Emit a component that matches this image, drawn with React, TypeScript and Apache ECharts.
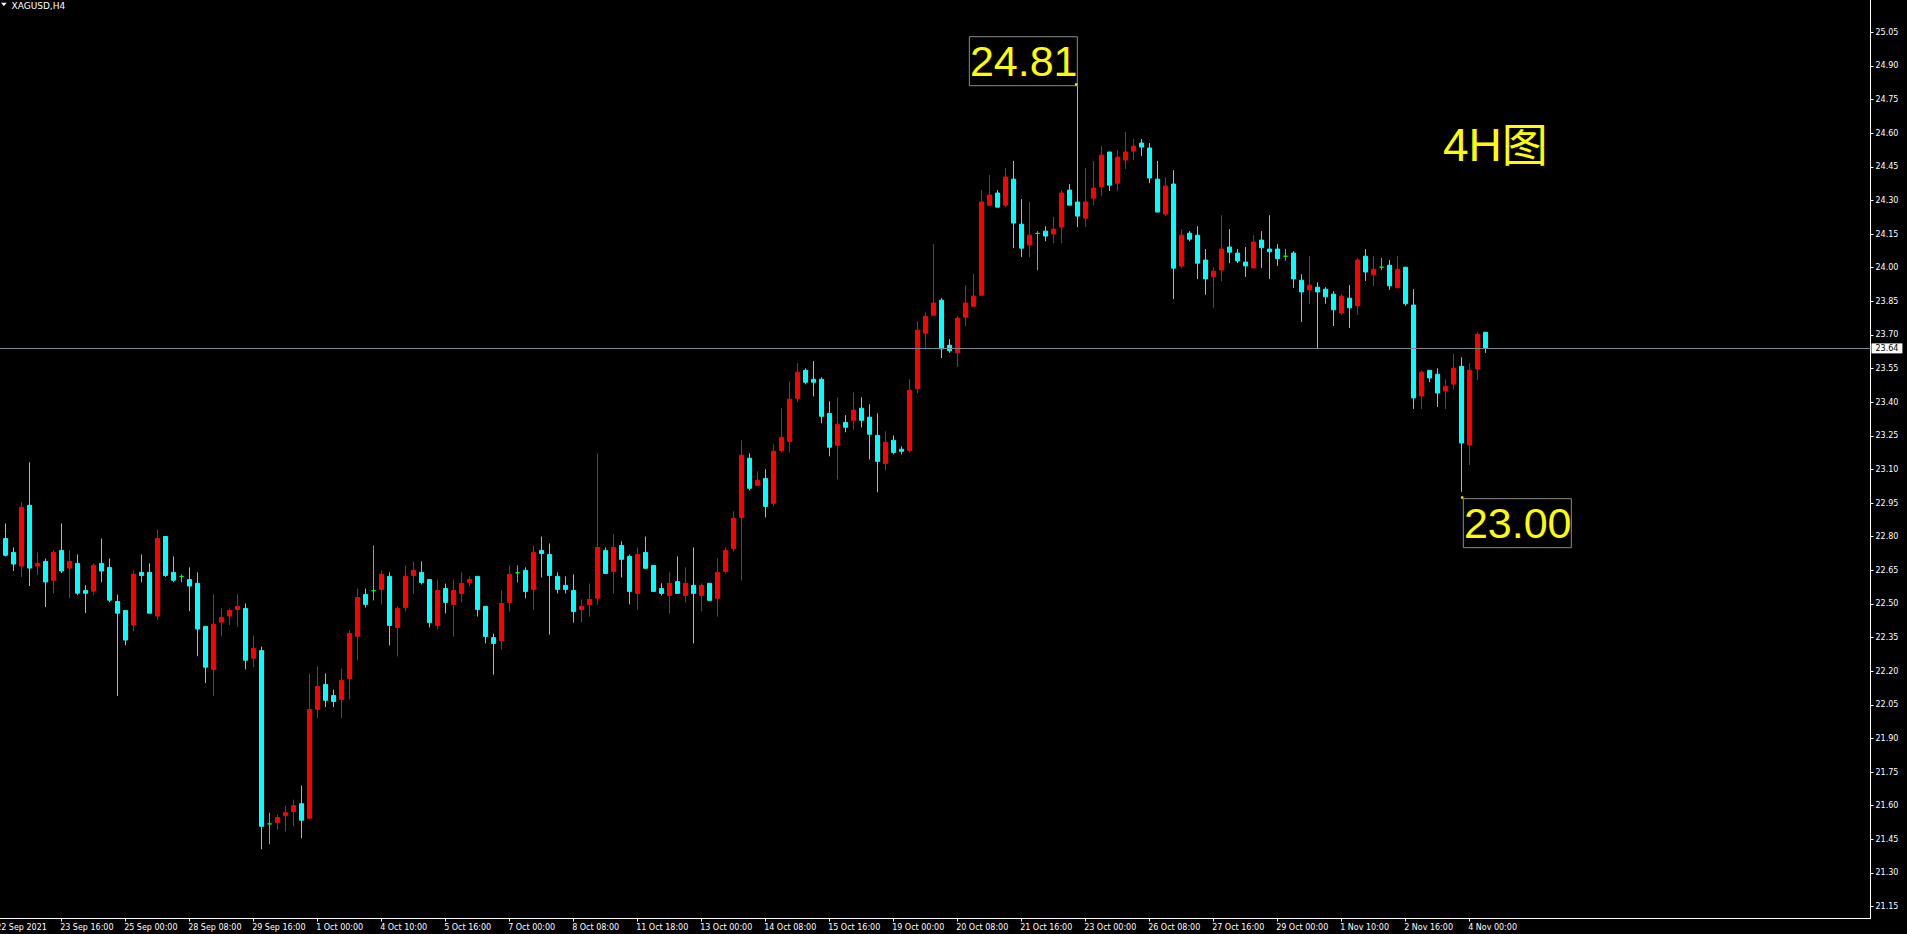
import React, { useEffect, useRef } from 'react';
import * as echarts from 'echarts';

// ---- data (XAGUSD, H4) ----
const opens = [
  22.792, 22.730, 22.669, 22.940, 22.669, 22.690, 22.606, 22.739, 22.660, 22.681,
  22.560, 22.557, 22.681, 22.663, 22.511, 22.471, 22.406, 22.641, 22.641, 22.446,
  22.801, 22.641, 22.623, 22.609, 22.592, 22.400, 22.208, 22.419, 22.446, 22.475,
  22.480, 22.258, 22.292, 21.519, 21.526, 21.556, 21.574, 21.609, 21.544, 22.030,
  22.141, 22.092, 22.074, 22.167, 22.356, 22.542, 22.559, 22.565, 22.623, 22.395,
  22.484, 22.627, 22.641, 22.609, 22.404, 22.569, 22.498, 22.547, 22.596, 22.623,
  22.489, 22.350, 22.337, 22.507, 22.639, 22.650, 22.565, 22.739, 22.721, 22.623,
  22.583, 22.560, 22.475, 22.498, 22.525, 22.739, 22.645, 22.761, 22.712, 22.547,
  22.730, 22.672, 22.569, 22.538, 22.600, 22.538, 22.583, 22.538, 22.592, 22.525,
  22.645, 22.748, 22.886, 23.150, 23.029, 23.060, 22.949, 23.185, 23.225, 23.417,
  23.542, 23.502, 23.502, 23.350, 23.208, 23.310, 23.319, 23.373, 23.333, 23.252,
  23.127, 23.230, 23.190, 23.185, 23.460, 23.708, 23.788, 23.855, 23.654, 23.620,
  23.779, 23.828, 23.877, 24.279, 24.333, 24.279, 24.395, 24.194, 24.101, 24.153,
  24.163, 24.150, 24.181, 24.346, 24.293, 24.221, 24.310, 24.360, 24.516, 24.377,
  24.480, 24.520, 24.556, 24.534, 24.395, 24.239, 24.373, 24.007, 24.154, 24.145,
  24.034, 23.959, 23.990, 24.092, 24.065, 24.025, 23.999, 24.123, 24.083, 24.083,
  24.051, 24.065, 23.944, 23.901, 23.913, 23.904, 23.882, 23.798, 23.864, 23.830,
  24.051, 23.968, 24.002, 24.011, 23.910, 24.002, 23.833, 23.428, 23.542, 23.525,
  23.450, 23.481, 23.560, 23.209, 23.548, 23.712,
];
const highs = [
  22.859, 22.752, 22.953, 23.132, 22.730, 22.703, 22.739, 22.859, 22.739, 22.721,
  22.583, 22.681, 22.792, 22.703, 22.542, 22.471, 22.650, 22.721, 22.681, 22.833,
  22.801, 22.712, 22.632, 22.663, 22.641, 22.400, 22.542, 22.480, 22.480, 22.542,
  22.502, 22.359, 22.310, 21.569, 21.560, 21.600, 21.627, 21.690, 22.190, 22.221,
  22.190, 22.118, 22.212, 22.382, 22.569, 22.569, 22.761, 22.650, 22.641, 22.489,
  22.672, 22.690, 22.690, 22.609, 22.609, 22.591, 22.609, 22.641, 22.623, 22.623,
  22.489, 22.368, 22.560, 22.672, 22.672, 22.663, 22.761, 22.801, 22.770, 22.641,
  22.623, 22.632, 22.520, 22.591, 23.172, 22.752, 22.810, 22.779, 22.721, 22.752,
  22.801, 22.672, 22.592, 22.641, 22.712, 22.663, 22.752, 22.592, 22.592, 22.703,
  22.752, 22.913, 23.230, 23.172, 23.092, 23.101, 23.212, 23.373, 23.493, 23.574,
  23.551, 23.583, 23.511, 23.404, 23.422, 23.342, 23.444, 23.422, 23.391, 23.350,
  23.270, 23.252, 23.203, 23.502, 23.761, 23.801, 24.105, 23.864, 23.681, 23.784,
  23.922, 23.971, 24.346, 24.413, 24.346, 24.444, 24.476, 24.306, 24.293, 24.163,
  24.185, 24.226, 24.346, 24.373, 24.810, 24.444, 24.476, 24.542, 24.516, 24.525,
  24.605, 24.574, 24.574, 24.556, 24.476, 24.404, 24.435, 24.172, 24.163, 24.185,
  24.083, 24.002, 24.234, 24.172, 24.083, 24.092, 24.145, 24.163, 24.234, 24.105,
  24.083, 24.074, 23.971, 24.051, 23.935, 23.913, 23.895, 23.882, 23.922, 24.043,
  24.083, 24.051, 24.043, 24.034, 24.051, 24.002, 23.904, 23.542, 23.542, 23.551,
  23.502, 23.614, 23.600, 23.574, 23.712, 23.712,
];
const lows = [
  22.712, 22.647, 22.620, 22.580, 22.629, 22.486, 22.548, 22.638, 22.526, 22.539,
  22.459, 22.539, 22.597, 22.508, 22.089, 22.316, 22.379, 22.597, 22.459, 22.428,
  22.620, 22.597, 22.597, 22.468, 22.267, 22.147, 22.089, 22.356, 22.406, 22.397,
  22.208, 22.218, 21.406, 21.428, 21.495, 21.486, 21.508, 21.455, 21.540, 21.990,
  22.040, 22.040, 21.990, 22.074, 22.249, 22.484, 22.516, 22.498, 22.315, 22.266,
  22.466, 22.547, 22.587, 22.395, 22.386, 22.458, 22.355, 22.507, 22.578, 22.444,
  22.324, 22.185, 22.297, 22.466, 22.596, 22.525, 22.475, 22.618, 22.364, 22.547,
  22.547, 22.417, 22.417, 22.444, 22.498, 22.636, 22.547, 22.618, 22.498, 22.475,
  22.659, 22.556, 22.538, 22.458, 22.547, 22.507, 22.324, 22.467, 22.516, 22.444,
  22.636, 22.734, 22.605, 23.007, 23.029, 22.886, 22.935, 23.176, 23.176, 23.400,
  23.480, 23.426, 23.306, 23.159, 23.056, 23.266, 23.279, 23.288, 23.145, 22.998,
  23.096, 23.167, 23.167, 23.176, 23.440, 23.636, 23.788, 23.597, 23.620, 23.557,
  23.739, 23.828, 23.877, 24.279, 24.270, 24.270, 24.087, 24.047, 24.047, 23.989,
  24.118, 24.109, 24.109, 24.279, 24.181, 24.181, 24.279, 24.319, 24.342, 24.342,
  24.440, 24.480, 24.498, 24.377, 24.248, 24.230, 23.860, 23.998, 24.118, 23.949,
  23.879, 23.821, 23.940, 24.020, 24.020, 23.959, 23.999, 23.999, 23.950, 24.008,
  24.031, 23.910, 23.758, 23.839, 23.638, 23.839, 23.740, 23.789, 23.731, 23.789,
  23.941, 23.919, 23.989, 23.901, 23.910, 23.830, 23.370, 23.370, 23.490, 23.379,
  23.370, 23.459, 23.000, 23.120, 23.499, 23.620,
];
const closes = [
  22.717, 22.678, 22.931, 22.660, 22.681, 22.598, 22.730, 22.647, 22.690, 22.548,
  22.548, 22.672, 22.647, 22.517, 22.459, 22.339, 22.632, 22.627, 22.459, 22.792,
  22.627, 22.606, 22.623, 22.580, 22.388, 22.218, 22.409, 22.440, 22.471, 22.489,
  22.249, 22.301, 21.508, 21.519, 21.547, 21.569, 21.600, 21.535, 22.029, 22.132,
  22.070, 22.065, 22.159, 22.368, 22.529, 22.498, 22.559, 22.632, 22.404, 22.480,
  22.623, 22.650, 22.596, 22.417, 22.560, 22.507, 22.560, 22.591, 22.609, 22.475,
  22.355, 22.324, 22.502, 22.632, 22.639, 22.556, 22.730, 22.725, 22.627, 22.565,
  22.565, 22.466, 22.489, 22.520, 22.752, 22.636, 22.752, 22.699, 22.556, 22.721,
  22.659, 22.556, 22.547, 22.592, 22.547, 22.592, 22.547, 22.583, 22.516, 22.641,
  22.739, 22.882, 23.163, 23.016, 23.051, 22.935, 23.181, 23.243, 23.413, 23.534,
  23.489, 23.489, 23.337, 23.199, 23.301, 23.288, 23.364, 23.319, 23.257, 23.136,
  23.221, 23.176, 23.181, 23.453, 23.721, 23.783, 23.842, 23.638, 23.629, 23.775,
  23.842, 23.873, 24.293, 24.324, 24.270, 24.404, 24.199, 24.087, 24.145, 24.153,
  24.141, 24.172, 24.333, 24.279, 24.230, 24.293, 24.355, 24.502, 24.368, 24.493,
  24.516, 24.542, 24.538, 24.400, 24.248, 24.364, 23.998, 24.145, 24.127, 24.020,
  23.950, 23.984, 24.083, 24.069, 24.030, 24.008, 24.114, 24.089, 24.071, 24.040,
  24.051, 23.950, 23.892, 23.922, 23.892, 23.870, 23.812, 23.873, 23.821, 24.034,
  23.981, 23.993, 24.002, 23.919, 23.993, 23.839, 23.419, 23.534, 23.508, 23.441,
  23.471, 23.551, 23.218, 23.542, 23.703, 23.640,
];

const xTickBars = [-1, 7, 15, 23, 31, 39, 47, 55, 63, 71, 79, 87, 95, 103, 111, 119, 127, 135, 143, 151, 159, 167, 175, 183];
const xTickLabels = [
  '22 Sep 2021', '23 Sep 16:00', '25 Sep 00:00', '28 Sep 08:00', '29 Sep 16:00', '1 Oct 00:00',
  '4 Oct 10:00', '5 Oct 16:00', '7 Oct 00:00', '8 Oct 08:00', '11 Oct 18:00', '13 Oct 00:00',
  '14 Oct 08:00', '15 Oct 16:00', '19 Oct 00:00', '20 Oct 08:00', '21 Oct 16:00', '23 Oct 00:00',
  '26 Oct 08:00', '27 Oct 16:00', '29 Oct 00:00', '1 Nov 10:00', '2 Nov 16:00', '4 Nov 00:00',
];
const yTickLabels = [
  '21.15', '21.30', '21.45', '21.60', '21.75', '21.90', '22.05', '22.20', '22.35', '22.50',
  '22.65', '22.80', '22.95', '23.10', '23.25', '23.40', '23.55', '23.70', '23.85', '24.00',
  '24.15', '24.30', '24.45', '24.60', '24.75', '24.90', '25.05',
];
const lastPrice = 23.64;
const annotBars = [134, 182];
const annotPrices = [24.81, 23.0];
const annotTexts = ['24.81', '23.00'];
const annotPlacement = ['above-left', 'below-right'];
const symbolTitle = 'XAGUSD,H4';
const noteText = '4H图';

const AXIS_FONT = "'DejaVu Sans', Tahoma, sans-serif";
const BIG_FONT = "'Liberation Sans', Arial, 'Noto Sans CJK SC', sans-serif";
// time labels start a little left of their tick (in bar units)
const LABEL_SHIFT = 0.15;
// the chart div starts this many px left of the page so the first, cut-off time label can be drawn
const OFF = 8;

export default function App() {
  const ref = useRef<HTMLDivElement>(null);

  useEffect(() => {
    if (!ref.current) return;
    const chart = echarts.init(ref.current, null, { renderer: 'svg' });

    const candleData = opens.map((o, i) => {
      const item: any = { value: [i, o, closes[i], lows[i], highs[i]] };
      if (o === closes[i]) {
        item.itemStyle = { borderColor: '#00ff00', color: '#00ff00', color0: '#00ff00', borderColor0: '#00ff00' };
      }
      return item;
    });

    const annotData = annotBars.map((b, i) => [b, annotPrices[i]]);
    const labelValues = xTickBars.map((b) => b - LABEL_SHIFT);
    const yVals = yTickLabels.map(Number);

    const option: any = {
      animation: false,
      backgroundColor: '#000000',
      grid: { left: OFF - 4.27, right: 36.5, top: 0, bottom: 15.5, containLabel: false },
      xAxis: {
        type: 'value',
        min: -1.2,
        max: 233.146,
        axisLine: { show: true, onZero: false, lineStyle: { color: '#ffffff', width: 1 } },
        axisTick: { show: true, length: 3, customValues: xTickBars, lineStyle: { color: '#ffffff' } },
        axisLabel: {
          show: true,
          customValues: labelValues,
          color: '#ffffff',
          fontSize: 8,
          fontFamily: AXIS_FONT,
          margin: 5,
          align: 'left',
          formatter: (v: number) => {
            const k = labelValues.findIndex((lv) => Math.abs(lv - v) < 0.01);
            return k >= 0 ? xTickLabels[k] : '';
          },
        },
        splitLine: { show: false },
      },
      yAxis: {
        type: 'value',
        position: 'right',
        min: 21.097,
        max: 25.194,
        axisLine: { show: true, onZero: false, lineStyle: { color: '#ffffff', width: 1 } },
        axisTick: { show: true, length: 3, customValues: yVals, lineStyle: { color: '#ffffff' } },
        axisLabel: {
          show: true,
          customValues: yVals,
          color: '#ffffff',
          fontSize: 8,
          fontFamily: AXIS_FONT,
          margin: 5,
          formatter: (v: number) => {
            const s = v.toFixed(2);
            return yTickLabels.includes(s) ? s : '';
          },
        },
        splitLine: { show: false },
      },
      series: [
        {
          type: 'candlestick',
          data: candleData,
          barWidth: 4,
          itemStyle: {
            color: '#ff0000',
            color0: '#00ffff',
            borderColor: '#ff0000',
            borderColor0: '#00ffff',
            borderColorDoji: '#00ff00',
            borderWidth: 1,
          },
          emphasis: { disabled: true },
          markLine: {
            silent: true,
            symbol: 'none',
            animation: false,
            lineStyle: { color: '#778899', width: 1, type: 'solid' },
            emphasis: { disabled: true },
            label: {
              show: true,
              position: 'end',
              distance: 1,
              formatter: lastPrice.toFixed(2),
              backgroundColor: '#ffffff',
              color: '#000000',
              fontSize: 8,
              fontFamily: AXIS_FONT,
              lineHeight: 9,
              padding: [1, 4, 0, 4],
            },
            data: [{ yAxis: lastPrice }],
          },
        },
        {
          type: 'custom',
          data: annotData,
          silent: true,
          clip: false,
          renderItem: (params: any, api: any) => {
            const idx = params.dataIndex;
            const pt = api.coord([api.value(0), api.value(1)]);
            const w = 108;
            const h = 49;
            const aboveLeft = annotPlacement[idx] === 'above-left';
            const bx = aboveLeft ? pt[0] - w : pt[0] + 2;
            const by = aboveLeft ? pt[1] - h - 0.4 : pt[1] + 6.8;
            const dx = aboveLeft ? pt[0] - 2.3 : pt[0] - 0.3;
            const dy = aboveLeft ? pt[1] - 2.8 : pt[1] + 4.5;
            return {
              type: 'group',
              children: [
                {
                  type: 'rect',
                  shape: { x: bx, y: by, width: w, height: h },
                  style: { fill: 'none', stroke: '#8a8a8a', lineWidth: 1 },
                },
                {
                  type: 'text',
                  style: {
                    text: annotTexts[idx],
                    x: bx + 0.6,
                    y: by + h / 2,
                    fill: '#ffff00',
                    font: `43px ${BIG_FONT}`,
                    align: 'left',
                    verticalAlign: 'middle',
                  },
                },
                {
                  type: 'rect',
                  shape: { x: dx, y: dy, width: 2.3, height: 2.3 },
                  style: { fill: '#ffff00' },
                },
              ],
            };
          },
        },
      ],
      graphic: [
        {
          type: 'polygon',
          shape: { points: [[OFF + 1, 2.7], [OFF + 6.7, 2.7], [OFF + 3.85, 6]] },
          style: { fill: '#ffffff' },
          silent: true,
        },
        {
          type: 'text',
          left: OFF + 11.5,
          top: 1,
          style: { text: symbolTitle, fill: '#ffffff', font: `9px ${AXIS_FONT}` },
          silent: true,
        },
        {
          type: 'text',
          x: OFF + 1443,
          y: 145,
          style: {
            text: noteText,
            fill: '#ffff00',
            font: `46px ${BIG_FONT}`,
            align: 'left',
            verticalAlign: 'middle',
          },
          silent: true,
        },
      ],
    };

    chart.setOption(option);
    return () => {
      chart.dispose();
    };
  }, []);

  return (
    <div
      ref={ref}
      style={{ position: 'fixed', left: -OFF, top: 0, width: 1907 + OFF, height: 934, background: '#000' }}
    />
  );
}
